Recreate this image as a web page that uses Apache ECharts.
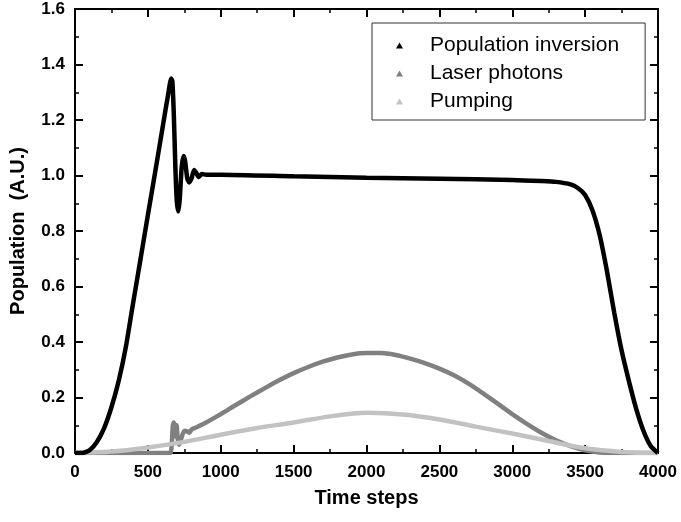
<!DOCTYPE html>
<html>
<head>
<meta charset="utf-8">
<script src="https://cdn.jsdelivr.net/npm/echarts@6/dist/echarts.min.js"></script>
<style>html,body{margin:0;padding:0;background:#fff}#c{width:681px;height:522px}</style>
</head>
<body>
<div id="c"></div>
<script>
var seriesNames = ['Population inversion', 'Laser photons', 'Pumping'];
var xTicks = [0, 500, 1000, 1500, 2000, 2500, 3000, 3500, 4000];
var yTicks = ['0.0', '0.2', '0.4', '0.6', '0.8', '1.0', '1.2', '1.4', '1.6'];

var popInversion = [
  [0,0],[50,0],[100,0.01],[150,0.04],[200,0.09],[250,0.165],[300,0.26],[350,0.385],
  [400,0.545],[450,0.70],[500,0.857],[550,1.012],[600,1.17],[640,1.295],
  [660,1.35],[668,1.34],[678,1.22],[688,1.04],[698,0.91],[708,0.87],[718,0.91],
  [732,1.03],[745,1.07],[756,1.05],[770,0.99],[783,0.975],[800,0.99],[817,1.02],
  [832,1.01],[848,0.995],[870,1.005],[900,1.003],[1000,1.003],[1500,0.997],
  [2000,0.992],[2500,0.988],[3000,0.984],[3200,0.98],[3300,0.977],[3400,0.968],
  [3450,0.955],[3500,0.93],[3550,0.875],[3600,0.785],[3650,0.655],[3700,0.505],
  [3750,0.37],[3800,0.26],[3850,0.16],[3900,0.08],[3950,0.025],[4000,0]
];
var laserPhotons = [
  [0,0],[300,0],[650,0],[662,0.02],[670,0.09],[676,0.11],[683,0.10],[689,0.06],
  [697,0.10],[705,0.05],[714,0.03],[725,0.045],[740,0.07],[755,0.08],[770,0.078],
  [785,0.073],[800,0.085],[830,0.092],[900,0.11],[1000,0.14],[1100,0.172],[1200,0.203],
  [1300,0.233],[1400,0.262],[1500,0.288],[1600,0.31],[1700,0.329],[1800,0.344],
  [1900,0.355],[2000,0.36],[2100,0.36],[2200,0.353],[2300,0.34],[2400,0.324],
  [2500,0.304],[2600,0.28],[2700,0.25],[2800,0.215],[2900,0.178],[3000,0.14],
  [3100,0.105],[3200,0.073],[3300,0.046],[3400,0.025],[3500,0.01],[3600,0.002],
  [3700,0],[4000,0]
];
var pumping = [
  [0,0],[250,0.005],[500,0.02],[750,0.04],[1000,0.066],[1250,0.09],[1500,0.11],
  [1750,0.132],[2000,0.145],[2250,0.139],[2500,0.121],[2750,0.095],[3000,0.07],
  [3250,0.043],[3500,0.017],[3750,0.004],[4000,0]
];

var FONT = 'Liberation Sans, Arial, sans-serif';
var chart = echarts.init(document.getElementById('c'), null, {renderer: 'canvas'});

function xAx(pos, show) {
  return {
    type: 'value', position: pos, min: 0, max: 4000, interval: 500,
    name: show ? 'Time steps' : '', nameLocation: 'middle', nameGap: 35,
    nameTextStyle: {fontFamily: FONT, fontSize: 20, fontWeight: 'bold', color: '#000'},
    axisLine: {show: true, onZero: false, lineStyle: {color: '#000', width: 2}},
    axisTick: {show: true, inside: true, length: 8, lineStyle: {color: '#000', width: 2}},
    minorTick: {show: true, splitNumber: 2, length: 4, lineStyle: {color: '#000', width: 1.5}},
    splitLine: {show: false},
    axisLabel: {show: show, margin: 11, fontFamily: FONT, fontSize: 17, fontWeight: 'bold', color: '#000',
      formatter: function (v) { return xTicks.indexOf(v) >= 0 ? String(v) : ''; }}
  };
}
function yAx(pos, show) {
  return {
    type: 'value', position: pos, min: 0, max: 1.6, interval: 0.2,
    name: show ? 'Population  (A.U.)' : '', nameLocation: 'middle', nameGap: 47,
    nameTextStyle: {fontFamily: FONT, fontSize: 20, fontWeight: 'bold', color: '#000'},
    axisLine: {show: true, onZero: false, lineStyle: {color: '#000', width: 2}},
    axisTick: {show: true, inside: true, length: 8, lineStyle: {color: '#000', width: 2}},
    minorTick: {show: true, splitNumber: 2, length: 4, lineStyle: {color: '#000', width: 1.5}},
    splitLine: {show: false},
    axisLabel: {show: show, margin: 10, fontFamily: FONT, fontSize: 17, fontWeight: 'bold', color: '#000',
      formatter: function (v) { var i = Math.round(v / 0.2); return yTicks[i] || ''; }}
  };
}

chart.setOption({
  animation: false,
  backgroundColor: '#fff',
  grid: {left: 74, right: 23, top: 9, bottom: 69, containLabel: false},
  xAxis: [xAx('bottom', true), xAx('top', false)],
  yAxis: [yAx('left', true), yAx('right', false)],
  legend: {
    orient: 'vertical', left: 372, top: 23,
    padding: [12, 26, 8, 24], itemGap: 7,
    itemWidth: 7, itemHeight: 6,
    borderColor: '#333', borderWidth: 1, backgroundColor: '#fff',
    data: seriesNames.map(function (n) { return {name: n, icon: 'triangle'}; }),
    textStyle: {fontFamily: FONT, fontSize: 21, color: '#000', lineHeight: 20, padding: [0, 0, 0, 22]}
  },
  series: [
    {name: seriesNames[1], type: 'line', data: laserPhotons, showSymbol: false, smooth: 0.3,
      color: '#808080', lineStyle: {color: '#808080', width: 4.5}, z: 2},
    {name: seriesNames[2], type: 'line', data: pumping, showSymbol: false, smooth: 0.3,
      color: '#c2c2c2', lineStyle: {color: '#c2c2c2', width: 4.5}, z: 3},
    {name: seriesNames[0], type: 'line', data: popInversion, showSymbol: false, smooth: 0.2,
      color: '#000', lineStyle: {color: '#000', width: 4.5}, z: 4}
  ]
});
</script>
</body>
</html>
